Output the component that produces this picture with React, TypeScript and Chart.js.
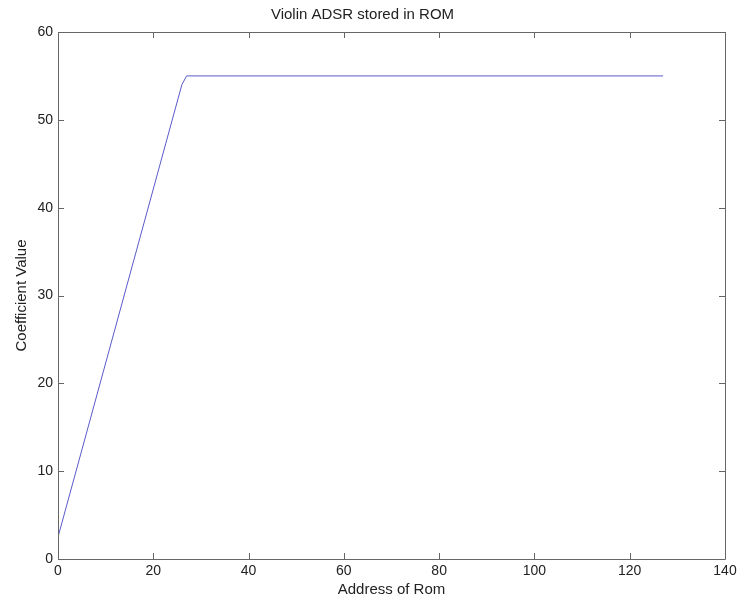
import React, { useEffect, useRef } from "react";
import { Chart, registerables } from "chart.js";

Chart.register(...registerables);

const TITLE = "Violin ADSR stored in ROM";
const X_LABEL = "Address of Rom";
const Y_LABEL = "Coefficient Value";

// ADSR envelope vertices (address, coefficient)
const ADDRESSES = [0, 26, 27, 127];
const COEFFICIENTS = [2.5, 54, 55, 55];

const X_MIN = 0;
const X_MAX = 140;
const X_STEP = 20;
const Y_MIN = 0;
const Y_MAX = 60;
const Y_STEP = 10;

const FONT = "'Liberation Sans', Arial, Helvetica, sans-serif";
const TEXT = "#222222";
const AXIS = "#666666";

const boxPlugin = {
  id: "matlabBox",
  afterDatasetsDraw(chart: any) {
    const { ctx, chartArea } = chart;
    const { left, right, top, bottom } = chartArea;
    const xs = chart.scales.x;
    const ys = chart.scales.y;
    const tl = 6;
    ctx.save();
    ctx.strokeStyle = AXIS;
    ctx.lineWidth = 1;
    ctx.beginPath();
    ctx.rect(Math.round(left) + 0.5, Math.round(top) + 0.5, Math.round(right - left), Math.round(bottom - top));
    ctx.stroke();
    ctx.beginPath();
    xs.ticks.forEach((t: any) => {
      const px = Math.round(xs.getPixelForValue(t.value)) + 0.5;
      ctx.moveTo(px, bottom);
      ctx.lineTo(px, bottom - tl);
      ctx.moveTo(px, top);
      ctx.lineTo(px, top + tl);
    });
    ys.ticks.forEach((t: any) => {
      const py = Math.round(ys.getPixelForValue(t.value)) + 0.5;
      ctx.moveTo(left, py);
      ctx.lineTo(left + tl, py);
      ctx.moveTo(right, py);
      ctx.lineTo(right - tl, py);
    });
    ctx.stroke();
    ctx.restore();
  },
};

export default function App() {
  const ref = useRef<HTMLCanvasElement | null>(null);

  useEffect(() => {
    if (!ref.current) return;
    const points = ADDRESSES.map((x, i) => ({ x, y: COEFFICIENTS[i] }));
    const chart = new Chart(ref.current, {
      type: "line",
      data: {
        datasets: [
          {
            data: points,
            borderColor: "#5a5acc",
            borderWidth: 1,
            pointRadius: 0,
            fill: false,
            tension: 0,
          },
        ],
      },
      options: {
        responsive: false,
        animation: false,
        devicePixelRatio: 1,
        layout: { padding: { top: 0, right: 13, bottom: 0, left: 0 } },
        plugins: {
          legend: { display: false },
          tooltip: { enabled: false },
          title: {
            display: true,
            text: TITLE,
            color: TEXT,
            font: { family: FONT, size: 15, weight: "normal" },
            padding: { top: 6, bottom: 8 },
          },
        },
        scales: {
          x: {
            type: "linear",
            min: X_MIN,
            max: X_MAX,
            grid: { display: false, drawTicks: false },
            border: { display: false },
            ticks: {
              stepSize: X_STEP,
              color: TEXT,
              padding: 4,
              maxRotation: 0,
              font: { family: FONT, size: 14 },
            },
            title: {
              display: true,
              text: X_LABEL,
              color: TEXT,
              font: { family: FONT, size: 15 },
              padding: { top: 0, bottom: 2 },
            },
            afterFit(scale: any) {
              scale.height = 42;
              scale.paddingLeft = 0;
              scale.paddingRight = 0;
            },
          },
          y: {
            type: "linear",
            min: Y_MIN,
            max: Y_MAX,
            grid: { display: false, drawTicks: false },
            border: { display: false },
            ticks: {
              stepSize: Y_STEP,
              color: TEXT,
              padding: 5,
              font: { family: FONT, size: 14 },
            },
            title: {
              display: true,
              text: Y_LABEL,
              color: TEXT,
              font: { family: FONT, size: 15 },
              padding: { top: 13, bottom: 0 },
            },
            afterFit(scale: any) {
              scale.width = 58;
              scale.paddingTop = 0;
              scale.paddingBottom = 0;
            },
          },
        },
      },
      plugins: [boxPlugin],
    });
    return () => chart.destroy();
  }, []);

  return (
    <div style={{ position: "absolute", left: 0, top: 0, width: 738, height: 601, background: "#fff" }}>
      <canvas ref={ref} width={738} height={601} />
    </div>
  );
}
